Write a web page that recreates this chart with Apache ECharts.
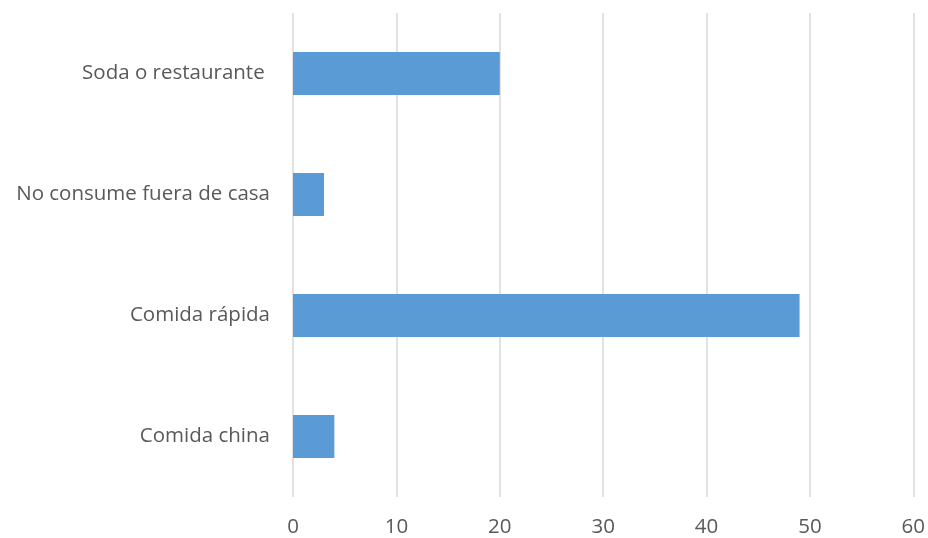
<!DOCTYPE html>
<html>
<head>
<meta charset="utf-8">
<script src="https://cdn.jsdelivr.net/npm/echarts@6/dist/echarts.min.js"></script>
<style>
  html, body { margin: 0; padding: 0; background: #fff; }
  #chart { width: 928px; height: 538px; }
</style>
</head>
<body>
<div id="chart"></div>
<script>
// Categories listed bottom-to-top (ECharts draws the first category at the bottom)
const categories = ['Comida china', 'Comida rápida', 'No consume fuera de casa', 'Soda o restaurante '];
const values = [4, 49, 3, 20];
const xTicks = { min: 0, max: 60, interval: 10 };

const chart = echarts.init(document.getElementById('chart'), null, { renderer: 'canvas' });
chart.setOption({
  animation: false,
  grid: { left: 293, right: 14, top: 13, bottom: 41, containLabel: false },
  xAxis: {
    type: 'value',
    min: xTicks.min,
    max: xTicks.max,
    interval: xTicks.interval,
    axisLine: { show: false },
    axisTick: { show: false },
    splitLine: { show: true, lineStyle: { color: '#d9d9d9', width: 1.5 } },
    axisLabel: { color: '#595959', fontFamily: 'Open Sans', fontSize: 20.5, margin: 20 }
  },
  yAxis: {
    type: 'category',
    data: categories,
    axisLine: { show: false },
    axisTick: { show: false },
    axisLabel: {
      color: '#595959', fontFamily: 'Open Sans', fontSize: 20.5, margin: 23,
      padding: [2, 0, 0, 0]
    }
  },
  series: [{
    type: 'bar',
    data: values,
    barWidth: 43,
    itemStyle: { color: '#5b9bd5' }
  }]
});
</script>
</body>
</html>
